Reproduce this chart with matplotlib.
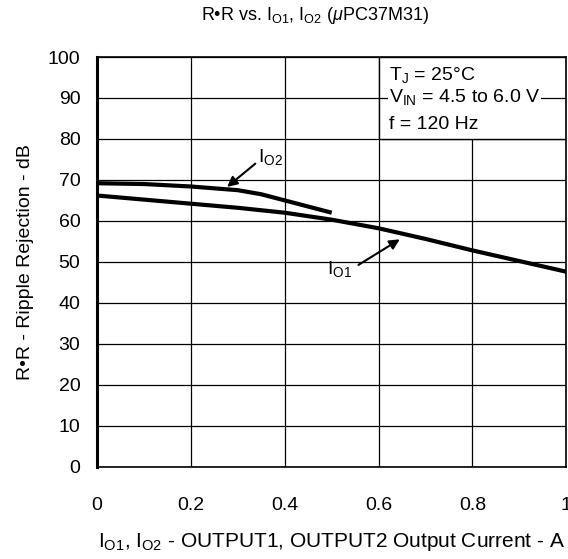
import matplotlib.pyplot as plt
import numpy as np
from matplotlib.patches import Rectangle

plt.rcParams['font.family'] = ['Liberation Sans', 'DejaVu Sans']
plt.rcParams['mathtext.fontset'] = 'custom'
plt.rcParams['mathtext.rm'] = 'Liberation Sans'
plt.rcParams['mathtext.it'] = 'Liberation Sans:italic'

# curve values
io1_x = [0.0, 0.1, 0.2, 0.3, 0.4, 0.5, 0.6, 0.7, 0.8, 0.9, 1.0]
io1_y = [66.2, 65.2, 64.2, 63.2, 62.0, 60.3, 58.2, 55.6, 52.8, 50.2, 47.6]
io2_x = [0.0, 0.1, 0.2, 0.3, 0.35, 0.4, 0.45, 0.5]
io2_y = [69.2, 69.0, 68.4, 67.5, 66.5, 65.0, 63.5, 62.0]

xticks = [0, 0.2, 0.4, 0.6, 0.8, 1]
xtick_labels = ['0', '0.2', '0.4', '0.6', '0.8', '1']
yticks = list(range(0, 101, 10))

fig = plt.figure(figsize=(5.68, 5.59), dpi=100)
ax = fig.add_axes([0.171, 0.165, 0.826, 0.733])

ax.set_xlim(0, 1)
ax.set_ylim(0, 100)
ax.set_xticks(xticks)
ax.set_xticklabels(xtick_labels)
ax.set_yticks(yticks)
ax.tick_params(length=0, labelsize=14, pad=12)
ax.tick_params(axis='x', pad=22)
ax.grid(color='black', lw=0.9)
ax.set_axisbelow(True)
for s in ax.spines.values():
    s.set_linewidth(1.2)
ax.spines['left'].set_linewidth(2.2)

ax.plot(io1_x, io1_y, color='black', lw=3, solid_capstyle='butt', zorder=3)
ax.plot(io2_x, io2_y, color='black', lw=3, solid_capstyle='butt', zorder=3)

# condition box
ax.add_patch(Rectangle((0.6, 80), 0.4, 20, facecolor='white', edgecolor='black',
                       lw=1, zorder=2))
ax.plot([0.6, 1.0], [90, 90], color='black', lw=0.9, zorder=2.5)
tb = dict(facecolor='white', edgecolor='none', pad=0.5)
ax.text(0.622, 95.6, r'T$_{\mathrm{J}}$ = 25°C', fontsize=14, va='center', zorder=4)
ax.text(0.622, 90.2, r'V$_{\mathrm{IN}}$ = 4.5 to 6.0 V', fontsize=14, va='center',
        bbox=tb, zorder=4)
ax.text(0.622, 83.6, 'f = 120 Hz', fontsize=14, va='center', zorder=4)

ax.annotate(r'I$_{\mathrm{O2}}$', xy=(0.277, 68.3), xytext=(0.343, 75.5),
            fontsize=14, va='center', ha='left',
            arrowprops=dict(arrowstyle='-|>', color='black', lw=1.5,
                            mutation_scale=15, shrinkA=0, shrinkB=0,
                            relpos=(0, 0.3)))
ax.annotate(r'I$_{\mathrm{O1}}$', xy=(0.645, 55.5), xytext=(0.49, 48.3),
            fontsize=14, va='center', ha='left',
            arrowprops=dict(arrowstyle='-|>', color='black', lw=1.5,
                            mutation_scale=15, shrinkA=3, shrinkB=0,
                            relpos=(1, 0.5)))

fig.text(0.555, 0.973, r'R•R vs. I$_{\mathrm{O1}}$, I$_{\mathrm{O2}}$ ($\mu$PC37M31)',
         fontsize=13, ha='center', va='center')
ax.set_xlabel(r'I$_{\mathrm{O1}}$, I$_{\mathrm{O2}}$ - OUTPUT1, OUTPUT2 Output Current - A',
              fontsize=15, labelpad=12)
ax.set_ylabel('R•R - Ripple Rejection - dB', fontsize=14, labelpad=10)

fig.savefig('out.png', dpi=100)
